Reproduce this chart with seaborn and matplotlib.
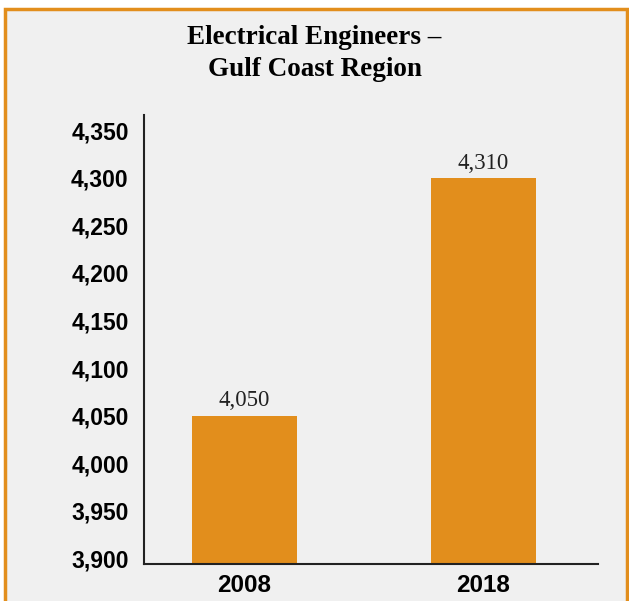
import matplotlib
matplotlib.use("Agg")
import matplotlib.pyplot as plt
import seaborn as sns
import pandas as pd
from matplotlib.patches import Rectangle

years = ["2008", "2018"]
values = [4050, 4300]
value_labels = ["4,050", "4,310"]
yticks = [3900, 3950, 4000, 4050, 4100, 4150, 4200, 4250, 4300, 4350]

orange = "#e28e1c"
bg = "#f0f0f0"

sns.set_style("white")
df = pd.DataFrame({"year": years, "value": values})

fig = plt.figure(figsize=(6.29, 6.01), dpi=100, facecolor="white")
# panel background with orange frame
fig.patches.append(Rectangle((5 / 629, -0.02), 622 / 629, (601 - 9) / 601 + 0.02,
                             transform=fig.transFigure, facecolor=bg,
                             edgecolor=orange, lw=2.5, zorder=-1))

ax = fig.add_axes([144 / 629, 37 / 601, 454 / 629, 449 / 601])
ax.set_facecolor("none")
sns.barplot(data=df, x="year", y="value", color=orange, saturation=1,
            width=0.44, linewidth=0, ax=ax)
ax.set_ylim(3894, 4366)
ax.set_xlim(-0.42, 1.48)
ax.set_yticks(yticks)
ax.set_yticklabels([f"{t:,}" for t in yticks])
ax.set_xlabel("")
ax.set_ylabel("")
ax.tick_params(axis="both", length=0)
ax.tick_params(axis="y", pad=11)
ax.tick_params(axis="x", pad=7)
for lab in ax.get_yticklabels():
    lab.set_fontfamily("Liberation Sans")
    lab.set_fontweight("bold")
    lab.set_fontsize(16.5)
    lab.set_color("black")
for lab in ax.get_xticklabels():
    lab.set_fontfamily("Liberation Sans")
    lab.set_fontweight("bold")
    lab.set_fontsize(17.5)
    lab.set_color("black")

for s in ["top", "right"]:
    ax.spines[s].set_visible(False)
for s in ["left", "bottom"]:
    ax.spines[s].set_color("#222222")
    ax.spines[s].set_linewidth(1.5)

for i, (v, t) in enumerate(zip(values, value_labels)):
    ax.annotate(t, (i, v), xytext=(0, 3), textcoords="offset points",
                ha="center", va="bottom", fontfamily="Liberation Serif",
                fontsize=16.5, color="#222222")

fig.text(0.5, 1 - 37 / 601, "Electrical Engineers –", ha="center", va="center",
         fontfamily="Liberation Serif", fontweight="bold", fontsize=19.5,
         color="black")
fig.text(0.5, 1 - 70 / 601, "Gulf Coast Region", ha="center", va="center",
         fontfamily="Liberation Serif", fontweight="bold", fontsize=19.5,
         color="black")

fig.savefig("out.png", dpi=100, facecolor="white")
